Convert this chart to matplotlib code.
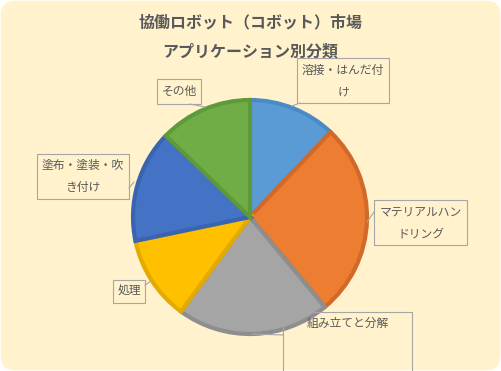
import numpy as np
import matplotlib
matplotlib.use('Agg')
import matplotlib.pyplot as plt
from matplotlib.patches import FancyBboxPatch, Rectangle

plt.rcParams['font.family'] = ['Noto Sans CJK JP', 'DejaVu Sans']

### DATA ######################################################################
title = '協働ロボット（コボット）市場\nアプリケーション別分類'
categories = ['溶接・はんだ付け', 'マテリアルハンドリング', '組み立てと分解',
              '処理', '塗布・塗装・吹き付け', 'その他']
label_text = ['溶接・はんだ付\nけ', 'マテリアルハン\nドリング', '組み立てと分解',
              '処理', '塗布・塗装・吹\nき付け', 'その他']
shares = [12.1, 26.9, 21.1, 11.7, 15.5, 12.8]
colors = ['#5B9BD5', '#ED7D31', '#A5A5A5', '#FFC000', '#4472C4', '#70AD47']
edges = ['#4A8AC6', '#D2692A', '#8E8E8E', '#E3AA00', '#3A64B2', '#5F9A3A']

### LAYOUT (pixels, origin top-left) ##########################################
W, H = 501, 371
cx, cy, R = 250, 217, 117
# label boxes: x0, y0, x1, y1
boxes = [(297, 58, 389, 103),
         (374, 200, 467, 245),
         (283, 312, 412, 380),
         (113, 280, 145, 303),
         (37, 154, 129, 199),
         (157, 79, 201, 104)]
# leader lines: from box to slice
leaders = [((300, 103), (292, 106)),
           ((374, 212), (367, 222)),
           ((283, 335), (252, 334)),
           ((145, 285), (151, 281)),
           ((129, 188), (134, 182)),
           ((190, 104), (205, 107))]

fig = plt.figure(figsize=(W / 100, H / 100), dpi=100)
fig.patch.set_facecolor('white')
ax = fig.add_axes([0, 0, 1, 1])

bg = FancyBboxPatch((1, 1), W - 2, H - 2, boxstyle='round,pad=0,rounding_size=14',
                    facecolor='#FFF2CC', edgecolor='#FFF2CC', lw=0.5, zorder=0)
ax.add_patch(bg)

wedges, _ = ax.pie(shares, colors=colors, startangle=90, counterclock=False,
                   center=(cx, H - cy), radius=R, frame=True,
                   wedgeprops=dict(linewidth=3, joinstyle='miter'))
for w, e in zip(wedges, edges):
    w.set_edgecolor(e)
    w.set_zorder(2)
ax.set_xlim(0, W)
ax.set_ylim(0, H)
ax.set_aspect('equal')
ax.axis('off')

txt_col = '#595959'
box_col = '#A6A6A6'
for (x0, y0, x1, y1), lab in zip(boxes, label_text):
    ax.add_patch(Rectangle((x0, H - y1), x1 - x0, y1 - y0, facecolor='none',
                           edgecolor=box_col, lw=0.8, zorder=3))
    ty = y0 + 11 if '\n' not in lab else y0 + 23
    if lab == '処理' or lab == 'その他':
        ty = (y0 + y1) / 2
    ax.text((x0 + x1) / 2, H - ty, lab, ha='center', va='center', fontsize=8.5,
            color=txt_col, linespacing=1.9, zorder=4)

for (a, b) in leaders:
    ax.plot([a[0], b[0]], [H - a[1], H - b[1]], color=box_col, lw=0.8, zorder=3)

ax.text(W / 2, H - 37, title, ha='center', va='center', fontsize=11.5,
        fontweight='bold', color=txt_col, linespacing=1.95)

fig.savefig('out.png', dpi=100, facecolor='white')
